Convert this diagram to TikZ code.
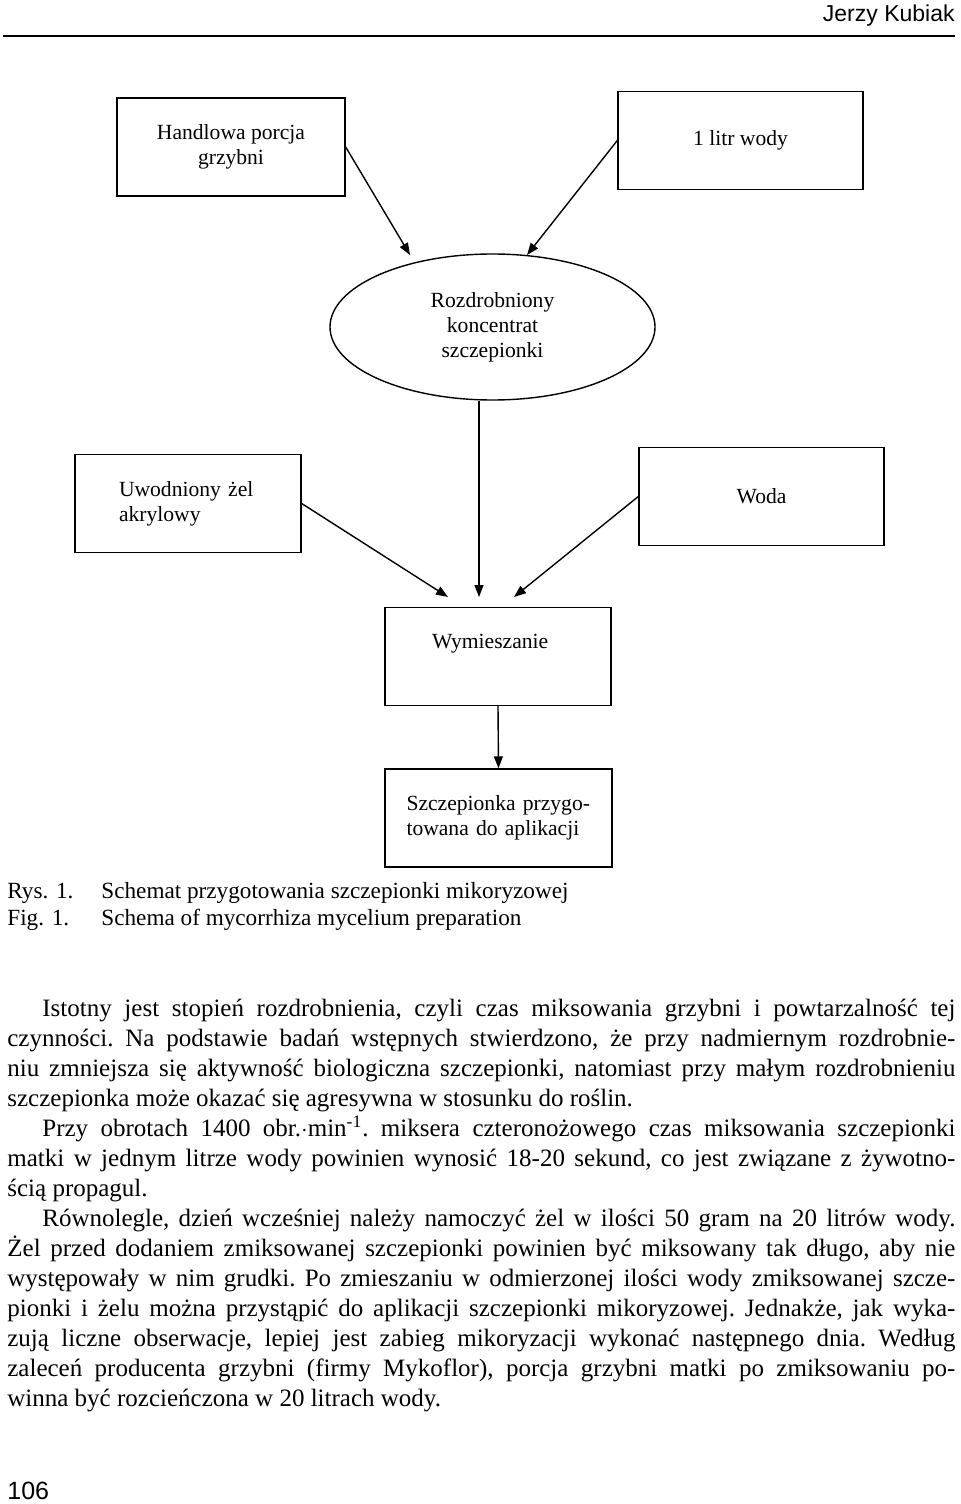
\documentclass[tikz,border=0pt]{standalone}
\usepackage{fontspec}
\setmainfont{Liberation Serif}
\newfontfamily\headfont{Liberation Sans}
\usetikzlibrary{shapes,arrows.meta,calc}

\tikzset{
  box/.style={draw, line width=.7pt, minimum height=49pt, inner sep=2pt,
    font=\fontsize{10.8}{12.5}\selectfont, align=center},
  flow/.style={line width=.7pt, -{Triangle[length=6pt,width=4.5pt]}},
  capt/.style={anchor=base west, inner sep=0pt, font=\fontsize{11.6}{14}\selectfont}
}

\begin{document}
\begin{tikzpicture}[x=.5pt,y=-.5pt]
\useasboundingbox (0,0) rectangle (960,1504);
\node[anchor=base east,inner sep=0pt,font=\headfont\fontsize{11.5}{13}\selectfont] (author) at (955,22) {Jerzy Kubiak};
\draw[line width=1pt] (3,36) -- (955,36);
\node[box,minimum width=114pt] (porcja) at (231,147) {Handlowa porcja\\grzybni};
\node[box,minimum width=122.5pt] (litr) at (740.5,140.5) {1 litr wody};
\node[draw,ellipse,line width=.7pt,minimum width=162.5pt,minimum height=73pt,inner sep=0pt,align=center,font=\fontsize{10.8}{12.5}\selectfont] (konc) at (492.5,327) {Rozdrobniony\\koncentrat\\szczepionki};
\node[box,minimum width=113pt,text width=69pt,align=left] (zel) at (188,503.5) {Uwodniony żel\\akrylowy};
\node[box,minimum width=122.5pt] (woda) at (761.5,496.5) {Woda};
\node[box,minimum width=113pt,text width=66pt,align=left,text depth=15pt] (mix) at (498,656.5) {Wymieszanie};
\node[box,minimum width=113.5pt,text width=92pt,align=left] (gotowa) at (498.5,818) {Szczepionka przygo-\\towana do aplikacji};
\coordinate (tipA) at (410,255);
\coordinate (tipB) at (527,255);
\coordinate (tipC) at (448,597);
\coordinate (tipD) at (479,597);
\coordinate (tipE) at (514,597);
\draw[flow] (porcja.east) -- (tipA);
\draw[flow] (litr.west) -- (tipB);
\draw[flow] (zel.east) -- (tipC);
\draw[flow] (konc.south -| tipD) -- (tipD);
\draw[flow] (woda.west) -- (tipE);
\draw[flow] (mix.south) -- (gotowa.north);
\node[capt] (rys) at (7,898) {Rys. 1.};
\node[capt] (rysopis) at (101,898) {Schemat przygotowania szczepionki mikoryzowej};
\node[capt] (fig) at (7,925) {Fig. 1.};
\node[capt] (figopis) at (101,925) {Schema of mycorrhiza mycelium preparation};
\node[anchor=base west,inner sep=0pt,text width=474pt,align=justify,font=\fontsize{12.5}{15}\selectfont] (tekst) at (7,1016) {%
\setlength{\parindent}{17.5pt}\frenchspacing\tolerance=9999\hyphenpenalty=10000\emergencystretch=20pt
\indent Istotny jest stopień rozdrobnienia, czyli czas miksowania grzybni i powtarzalność tej\linebreak
czynności. Na podstawie badań wstępnych stwierdzono, że przy nadmiernym rozdrobnie-\linebreak
niu zmniejsza się aktywność biologiczna szczepionki, natomiast przy małym rozdrobnieniu\linebreak
szczepionka może okazać się agresywna w stosunku do roślin.\par
Przy obrotach 1400 obr.$\cdot$min\textsuperscript{-1}. miksera czteronożowego czas miksowania szczepionki\linebreak
matki w jednym litrze wody powinien wynosić 18-20 sekund, co jest związane z żywotno-\linebreak
ścią propagul.\par
Równolegle, dzień wcześniej należy namoczyć żel w ilości 50 gram na 20 litrów wody.\linebreak
Żel przed dodaniem zmiksowanej szczepionki powinien być miksowany tak długo, aby nie\linebreak
występowały w nim grudki. Po zmieszaniu w odmierzonej ilości wody zmiksowanej szcze-\linebreak
pionki i żelu można przystąpić do aplikacji szczepionki mikoryzowej. Jednakże, jak wyka-\linebreak
zują liczne obserwacje, lepiej jest zabieg mikoryzacji wykonać następnego dnia. Według\linebreak
zaleceń producenta grzybni (firmy Mykoflor), porcja grzybni matki po zmiksowaniu po-\linebreak
winna być rozcieńczona w 20 litrach wody.};
\node[anchor=base west,inner sep=0pt,font=\headfont\fontsize{12.5}{14}\selectfont] (strona) at (7,1499) {106};
\end{tikzpicture}
\end{document}
